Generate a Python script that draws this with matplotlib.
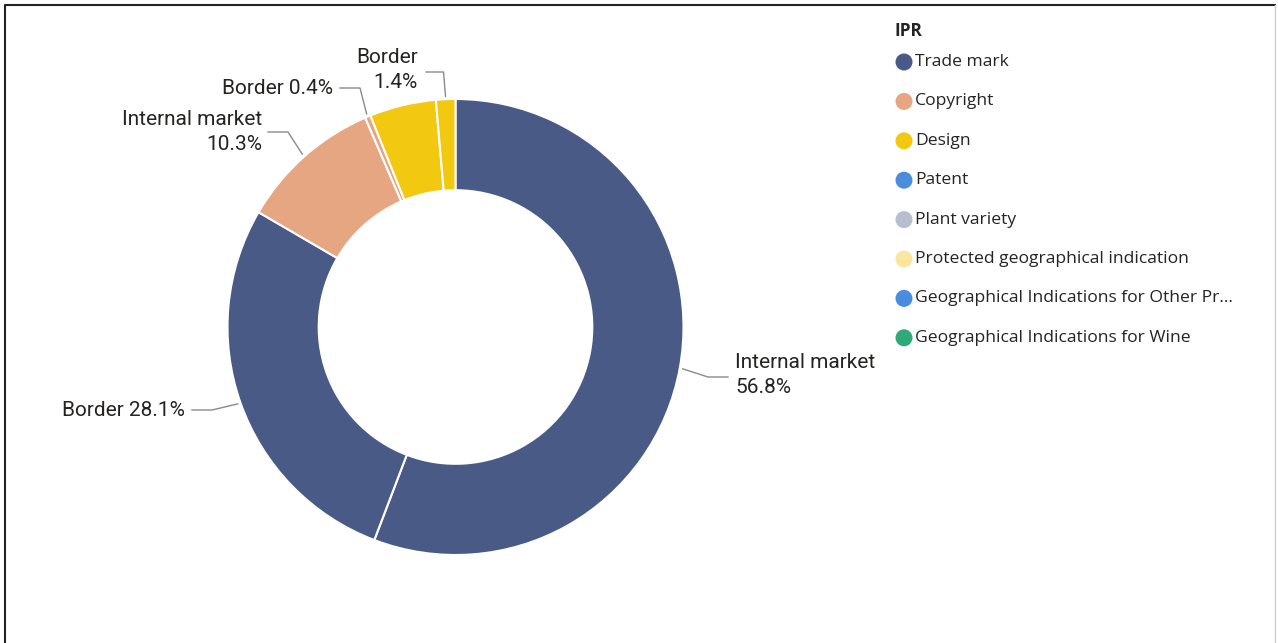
import numpy as np
import matplotlib.pyplot as plt

# data
slice_ipr = ['Trade mark', 'Trade mark', 'Copyright', 'Copyright', 'Design', 'Design']
slice_type = ['Internal market', 'Border', 'Internal market', 'Border', 'Internal market', 'Border']
slice_pct = [56.8, 28.1, 10.3, 0.4, 4.8, 1.4]
slice_shown = [True, True, True, True, False, True]

legend_ipr = ['Trade mark', 'Copyright', 'Design', 'Patent', 'Plant variety',
              'Protected geographical indication',
              'Geographical Indications for Other Pr...',
              'Geographical Indications for Wine']
ipr_colors = {
    'Trade mark': '#4a5a87',
    'Copyright': '#e5a681',
    'Design': '#f2c811',
    'Patent': '#4a8ddd',
    'Plant variety': '#b8bdd0',
    'Protected geographical indication': '#fbe6a0',
    'Geographical Indications for Other Pr...': '#4a8ce0',
    'Geographical Indications for Wine': '#2fa97a',
}

W, H = 1278, 643
fig = plt.figure(figsize=(W / 100, H / 100), dpi=100)
ax = fig.add_axes([0, 0, 1, 1])
ax.set_xlim(0, W)
ax.set_ylim(0, H)
ax.axis('off')

def Y(py):
    return H - py

# frame
ax.plot([5, 5, 1275], [Y(643), Y(5), Y(5)], color='#222222', lw=1.5)
ax.plot([1275, 1275], [Y(5), Y(643)], color='#d0d0d0', lw=1)

cx, cy, R = 455.5, Y(327), 228
colors = [ipr_colors[k] for k in slice_ipr]
wedges, _ = ax.pie(slice_pct, colors=colors, startangle=90, counterclock=False,
                   center=(cx, cy), radius=R,
                   wedgeprops=dict(width=R * 0.4, edgecolor='white', linewidth=1.5))
ax.set_xlim(0, W)
ax.set_ylim(0, H)

lab_font = dict(family=['Roboto', 'DejaVu Sans'], fontsize=15, color='#252423')
# label layout: text pos (px), alignment, elbow x (px)
lab_pos = [(735, 375, 'left', 728),
           (185, 410, 'right', 192),
           (262, 132, 'right', 268),
           (333, 88, 'right', 340),
           None,
           (418, 70, 'right', 426)]
lab_two_lines = [True, False, True, False, False, True]

for i, w in enumerate(wedges):
    if not slice_shown[i]:
        continue
    mid = np.deg2rad((w.theta1 + w.theta2) / 2)
    ax_ = cx + (R + 3) * np.cos(mid)
    ay_ = cy + (R + 3) * np.sin(mid)
    tx, ty, ha, ex = lab_pos[i]
    sep = '\n' if lab_two_lines[i] else ' '
    txt = f'{slice_type[i]}{sep}{slice_pct[i]:.1f}%'
    ax.text(tx, Y(ty), txt, ha=ha, va='center', multialignment=ha,
            linespacing=1.4, **lab_font)
    # leader line: elbow -> bend -> wedge
    if i == 5:
        ey = Y(72)
        ax.plot([ex, ax_ - 2, ax_], [ey, ey, ay_], color='#8a8a8a', lw=1)
    else:
        ey = Y(ty)
        if i == 0:
            ey = Y(377)
        bend = ex + (-20 if ha == 'left' else 20)
        ax.plot([ex, bend, ax_], [ey, ey, ay_], color='#8a8a8a', lw=1)

# legend
leg_font = dict(family=['Open Sans', 'DejaVu Sans'], fontsize=12.6, color='#252423')
ax.text(895, Y(31), 'IPR', ha='left', va='center', fontweight='bold',
        family=['Open Sans', 'DejaVu Sans'], fontsize=12.5, color='#252423')
for j, name in enumerate(legend_ipr):
    yy = Y(62 + j * 39.4)
    ax.scatter([904], [yy], s=150, color=ipr_colors[name], edgecolors='none')
    ax.text(915, yy, name, ha='left', va='center', **leg_font)

fig.savefig('out.png', dpi=100)
